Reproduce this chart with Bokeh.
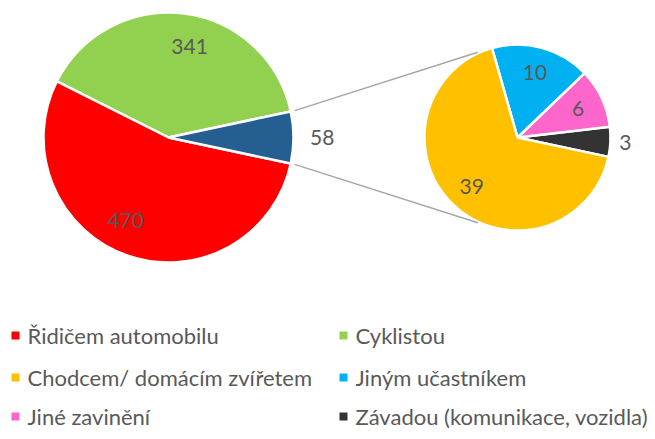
import math
from bokeh.plotting import figure
from bokeh.models import Range1d
from bokeh.core.properties import value
from bokeh.embed import file_html
from bokeh.resources import INLINE

# ---- data ----
main_labels = ["Řidičem automobilu", "Cyklistou"]
main_values = [470, 341]
main_colors = ["#FF0000", "#92D050"]
other_color = "#255E91"

sub_labels = ["Chodcem/ domácím zvířetem", "Jiným učastníkem", "Jiné zavinění",
              "Závadou (komunikace, vozidla)"]
sub_values = [39, 10, 6, 3]
sub_colors = ["#FFC000", "#00B0F0", "#FF66CC", "#333333"]

other_value = sum(sub_values)

# ---- layout (screen coordinates, y downwards; data y = -screen y) ----
FONT = "Lato"
TXT = "#595959"
W, H = 647, 431
p = figure(width=W, height=H, output_backend="svg", toolbar_location=None,
           x_range=Range1d(0, W), y_range=Range1d(-H, 0),
           min_border=0, outline_line_color=None)
p.axis.visible = False
p.grid.visible = False
p.background_fill_color = "white"

# main pie
mcx, mcy, mR = 168, -137, 125
total = sum(main_values) + other_value
half = other_value / total * 180.0
starts, ends, cols, vals = [], [], [], []
a = half
for v, c in zip(reversed(main_values), reversed(main_colors)):
    d = v / total * 360.0
    starts.append(a); ends.append(a + d); cols.append(c); vals.append(v)
    a += d
starts.append(-half); ends.append(half); cols.append(other_color); vals.append(other_value)

p.wedge(x=mcx, y=mcy, radius=mR, start_angle=starts, end_angle=ends,
        start_angle_units="deg", end_angle_units="deg", direction="anticlock",
        fill_color=cols, line_color="white", line_width=2.5)

# secondary pie
scx, scy, sR = 517, -137, 93
sst, sen, scl, svl = [], [], [], []
a = -half
for v, c in zip(reversed(sub_values), reversed(sub_colors)):
    d = v / other_value * 360.0
    sst.append(a); sen.append(a + d); scl.append(c); svl.append(v)
    a += d
p.wedge(x=scx, y=scy, radius=sR, start_angle=sst, end_angle=sen,
        start_angle_units="deg", end_angle_units="deg", direction="anticlock",
        fill_color=scl, line_color="white", line_width=2.5)

# connector lines
def pt(cx, cy, r, ang):
    return cx + r * math.cos(math.radians(ang)), cy + r * math.sin(math.radians(ang))
x0, y0 = pt(mcx, mcy, mR + 4, half)
x1, y1 = pt(scx, scy, sR + 1, 115)
p.line([x0, x1], [y0, y1], line_color="#A6A6A6", line_width=1.5)
x0, y0 = pt(mcx, mcy, mR + 4, -half)
x1, y1 = pt(scx, scy, sR + 1, 245)
p.line([x0, x1], [y0, y1], line_color="#A6A6A6", line_width=1.5)

# labels (main pie labels nudged toward Excel's best-fit placement)
lx, ly, lt = [], [], []
for s, e, v in zip(starts, ends, vals):
    m = (s + e) / 2
    if v == other_value:
        x, y = pt(mcx, mcy, mR * 1.23, m)
    else:
        x, y = pt(mcx, mcy, mR * 0.75, m - 0.04 * (e - s))
    lx.append(x); ly.append(y); lt.append(str(v))
for s, e, v in zip(sst, sen, svl):
    m = (s + e) / 2
    frac = 1.16 if (e - s) < 25 else 0.72
    x, y = pt(scx, scy, sR * frac, m)
    lx.append(x); ly.append(y); lt.append(str(v))
p.text(x=lx, y=ly, text=lt, text_font=value(FONT), text_font_size="21px",
       text_color=TXT, text_align="center", text_baseline="middle")

# legend
leg_labels = main_labels + sub_labels
leg_colors = main_colors + sub_colors
col_x = [15, 343]
row_y = [-335, -377, -416]
mx, my, tx = [], [], []
for i in range(len(leg_labels)):
    mx.append(col_x[i % 2]); my.append(row_y[i // 2]); tx.append(col_x[i % 2] + 12)
p.scatter(x=mx, y=my, marker="square", size=8, fill_color=leg_colors, line_color=None)
p.text(x=tx, y=my, text=leg_labels, text_font=value(FONT), text_font_size="22px",
       text_color=TXT, text_align="left", text_baseline="middle")

open("out.html", "w").write(file_html(p, INLINE))
